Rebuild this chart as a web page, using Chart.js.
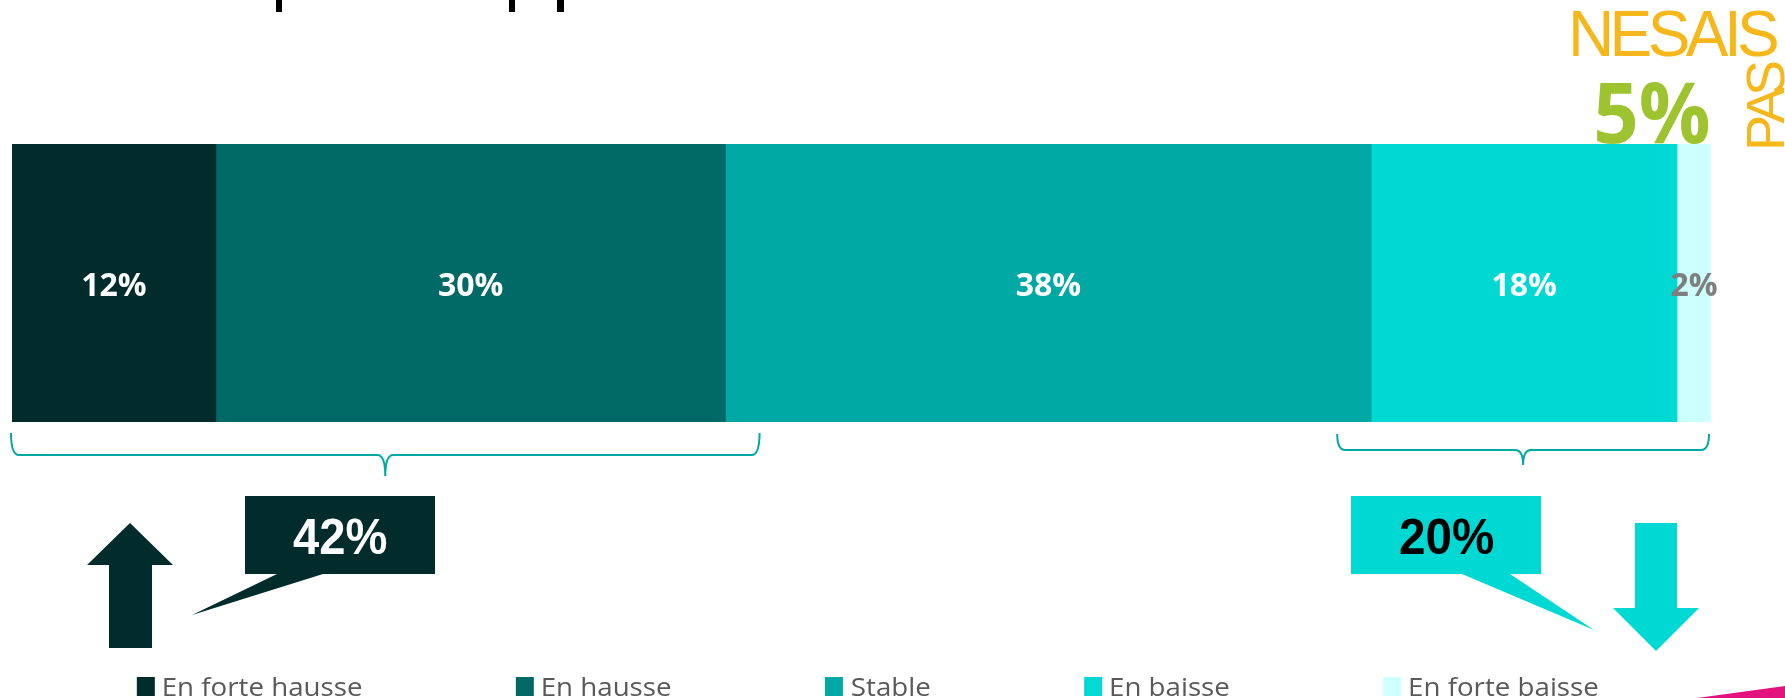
<!DOCTYPE html>
<html>
<head>
<meta charset="utf-8">
<script src="https://cdn.jsdelivr.net/npm/chart.js@4.4.1/dist/chart.umd.min.js"></script>
<style>
  html, body { margin: 0; padding: 0; background: #fff; }
  #wrap { width: 1785px; height: 698px; }
</style>
</head>
<body>
<div id="wrap"><canvas id="trend-chart" width="1785" height="698"></canvas></div>
<script>
// data
var categories = ['Tendance'];
var seriesLabels = ['En forte hausse', 'En hausse', 'Stable', 'En baisse', 'En forte baisse'];
var seriesValues = [12, 30, 38, 18, 2];
var dontKnowWords = ['NESAIS', 'PAS'];
var dontKnowValue = 5;

// styles
var seriesColors = ['#022b2b', '#016a67', '#00a9a4', '#00d9d3', '#ccfffd'];
var labelColors = ['#ffffff', '#ffffff', '#ffffff', '#ffffff', '#7f7f7f'];

// draw text so its ink spans [left, left + width]
function fitText(ctx, text, left, baseline, width) {
    var m = ctx.measureText(text);
    var ink = m.actualBoundingBoxLeft + m.actualBoundingBoxRight;
    ctx.save();
    ctx.textAlign = 'left';
    ctx.translate(left, baseline);
    ctx.scale(width / ink, 1);
    ctx.fillText(text, m.actualBoundingBoxLeft, 0);
    ctx.restore();
}

function spacedText(ctx, text, x, y, spacing) {
    for (var i = 0; i < text.length; i++) {
        ctx.fillText(text[i], x, y);
        x += ctx.measureText(text[i]).width + spacing;
    }
}

function poly(ctx, pts, color) {
    ctx.beginPath();
    ctx.moveTo(pts[0][0], pts[0][1]);
    for (var i = 1; i < pts.length; i++) ctx.lineTo(pts[i][0], pts[i][1]);
    ctx.closePath();
    ctx.fillStyle = color;
    ctx.fill();
}

function brace(ctx, x0, x1, top, mid, tip) {
    var xc = (x0 + x1) / 2, r = 8;
    ctx.beginPath();
    ctx.moveTo(x0, top);
    ctx.quadraticCurveTo(x0, mid, x0 + r, mid);
    ctx.lineTo(xc - r, mid);
    ctx.quadraticCurveTo(xc, mid, xc, tip);
    ctx.quadraticCurveTo(xc, mid, xc + r, mid);
    ctx.lineTo(x1 - r, mid);
    ctx.quadraticCurveTo(x1, mid, x1, top);
    ctx.strokeStyle = '#00a8a3';
    ctx.lineWidth = 2;
    ctx.stroke();
}

var barLabels = {
    id: 'barLabels',
    afterDatasetsDraw: function (chart) {
        var ctx = chart.ctx;
        ctx.save();
        ctx.font = 'bold 32px "Open Sans"';
        ctx.textAlign = 'center';
        ctx.textBaseline = 'alphabetic';
        chart.data.datasets.forEach(function (ds, i) {
            var bar = chart.getDatasetMeta(i).data[0];
            ctx.fillStyle = labelColors[i];
            ctx.fillText(ds.data[0] + '%', (bar.x + bar.base) / 2, bar.y + 13);
        });
        ctx.restore();
    }
};

var extras = {
    id: 'extras',
    afterDraw: function (chart) {
        var ctx = chart.ctx;
        var xs = chart.scales.x;
        var area = chart.chartArea;
        ctx.save();

        // bottom of the cut-off title
        ctx.fillStyle = '#000';
        ctx.fillRect(276, 0, 6, 12);
        ctx.fillRect(509, 0, 6, 12);
        ctx.fillRect(557, 0, 7, 12);

        // braces
        brace(ctx, xs.getPixelForValue(0) - 1, xs.getPixelForValue(44), 433, 455, 476);
        brace(ctx, xs.getPixelForValue(78), xs.getPixelForValue(100) - 2, 434, 450, 465);

        var up = seriesValues[0] + seriesValues[1];
        var down = seriesValues[3] + seriesValues[4];

        // up callout + arrow
        poly(ctx, [[245, 496], [435, 496], [435, 574], [323, 574], [192, 615], [277, 574], [245, 574]], seriesColors[0]);
        poly(ctx, [[130, 523], [173, 565], [152, 565], [152, 648], [109, 648], [109, 565], [87, 565]], seriesColors[0]);
        ctx.font = 'bold 50px "Liberation Sans"';
        ctx.fillStyle = '#ffffff';
        fitText(ctx, up + '%', 293, 554, 94);

        // down callout + arrow
        poly(ctx, [[1351, 496], [1541, 496], [1541, 574], [1510, 574], [1594, 630], [1462, 574], [1351, 574]], seriesColors[3]);
        poly(ctx, [[1635, 523], [1677, 523], [1677, 608], [1699, 608], [1656, 651], [1613, 608], [1635, 608]], seriesColors[3]);
        ctx.fillStyle = '#000000';
        fitText(ctx, down + '%', 1400, 554, 94);

        // "ne sais pas"
        ctx.fillStyle = '#f6b71b';
        ctx.font = '64px "Liberation Sans"';
        ctx.textAlign = 'left';
        spacedText(ctx, dontKnowWords[0], 1568, 56, -4.6);
        ctx.save();
        ctx.translate(1784, 151);
        ctx.rotate(-Math.PI / 2);
        ctx.font = '54px "Liberation Sans"';
        spacedText(ctx, dontKnowWords[1], 0, 0, -8.5);
        ctx.restore();
        ctx.font = 'bold 84px "Open Sans"';
        ctx.fillStyle = '#9dc42f';
        fitText(ctx, dontKnowValue + '%', 1597, 143, 112);

        // legend
        ctx.font = '26px "Open Sans"';
        var ref = ctx.measureText(seriesLabels[0]);
        var sx = 198 / (ref.actualBoundingBoxLeft + ref.actualBoundingBoxRight);
        var widths = seriesLabels.map(function (l) {
            var m = ctx.measureText(l);
            return (m.actualBoundingBoxLeft + m.actualBoundingBoxRight) * sx;
        });
        var gap = 154, box = 18, pad = 9;
        var total = widths.reduce(function (a, w) { return a + box + pad + w; }, 0) + gap * (widths.length - 1);
        var x = (area.left + area.right) / 2 + 6 - total / 2;
        seriesLabels.forEach(function (l, i) {
            ctx.fillStyle = seriesColors[i];
            ctx.fillRect(x, 677, box, 19);
            ctx.fillStyle = '#595959';
            fitText(ctx, l, x + box + pad, 696, widths[i]);
            x += box + pad + widths[i] + gap;
        });

        // corner wedge
        poly(ctx, [[1697, 698], [1785, 686], [1785, 698]], '#e2137d');

        ctx.restore();
    }
};

var ctx = document.getElementById('trend-chart').getContext('2d');

new Chart(ctx, {
    type: 'bar',
    data: {
        labels: categories,
        datasets: seriesLabels.map(function (label, i) {
            return {
                label: label,
                data: [seriesValues[i]],
                backgroundColor: seriesColors[i],
                borderWidth: 0,
                barPercentage: 1,
                categoryPercentage: 1
            };
        })
    },
    options: {
        indexAxis: 'y',
        responsive: false,
        animation: false,
        layout: {
            padding: { left: 12, right: 74, top: 144, bottom: 276 }
        },
        scales: {
            x: { stacked: true, display: false, min: 0, max: 100 },
            y: { stacked: true, display: false }
        },
        plugins: {
            legend: { display: false },
            tooltip: { enabled: false }
        }
    },
    plugins: [barLabels, extras]
});
</script>
</body>
</html>
